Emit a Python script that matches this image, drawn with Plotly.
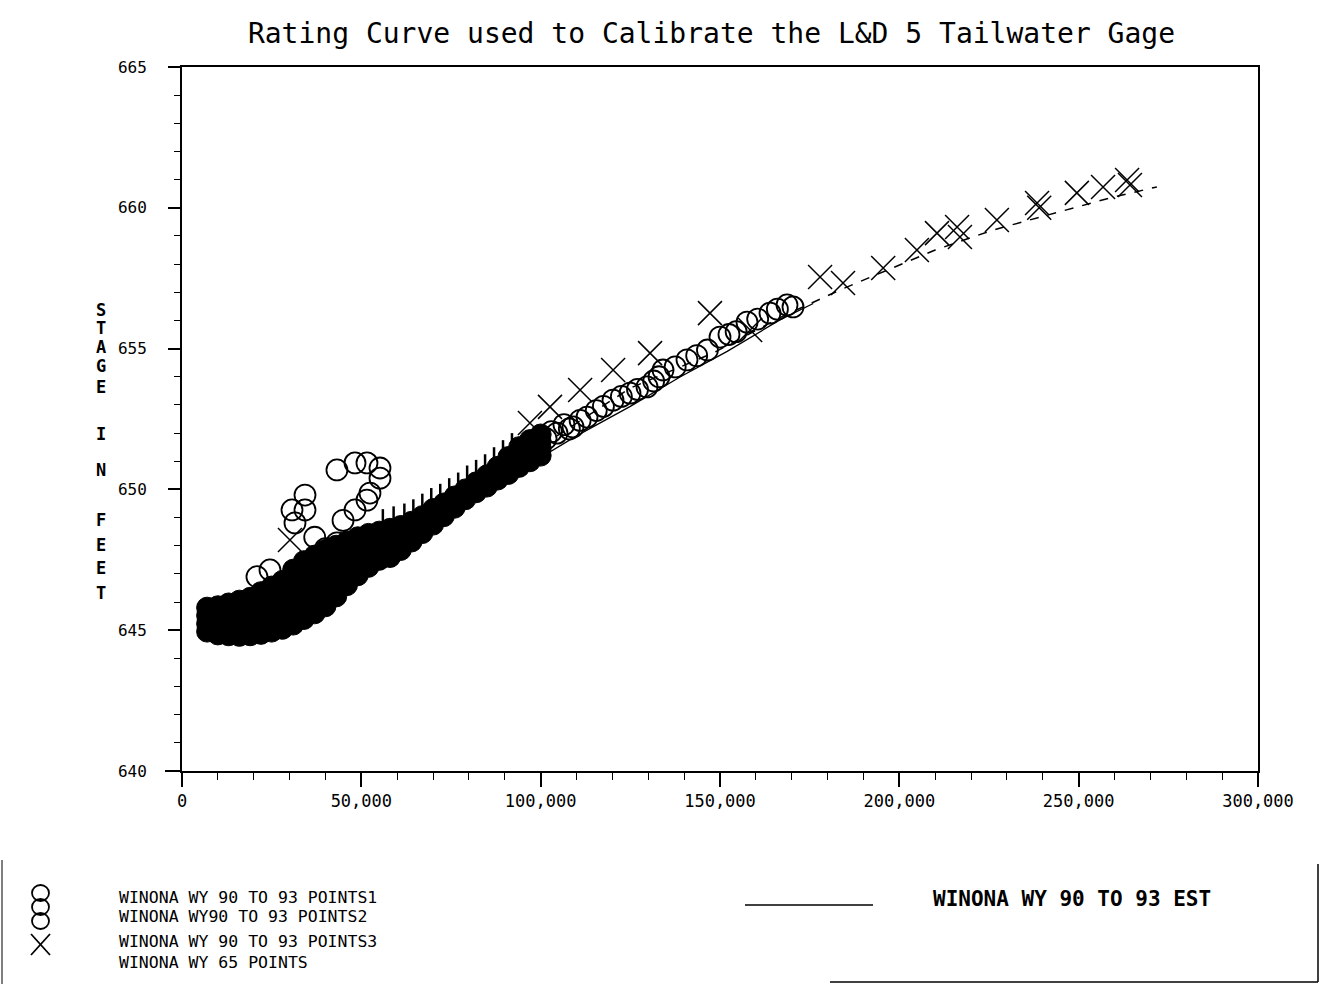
import plotly.graph_objects as go

# ---------------- data ----------------
# POINTS1 : dense core of observations, four rows across the band
p1_x = [7000, 10000, 13000, 16000, 19000, 22000, 25000, 28000, 31000, 34000, 37000,
        40000, 43000, 46000, 49000, 52000, 55000, 58000, 61000, 64000, 67000, 70000,
        73000, 76000, 79000, 82000, 85000, 88000, 91000, 94000, 97000, 100000]
p1_y_low = [644.95, 644.85, 644.82, 644.8, 644.82, 644.87, 644.95, 645.05, 645.2, 645.4, 645.6,
            645.85, 646.2, 646.6, 646.95, 647.25, 647.5, 647.6, 647.85, 648.15, 648.45, 648.75,
            649.05, 649.35, 649.65, 649.9, 650.1, 650.35, 650.55, 650.8, 651.0, 651.2]
p1_y_mid1 = [645.23, 645.18, 645.2, 645.22, 645.26, 645.36, 645.48, 645.62, 645.85, 646.08, 646.28,
             646.52, 646.8, 647.12, 647.4, 647.65, 647.83, 647.93, 648.14, 648.38, 648.65, 648.93,
             649.2, 649.48, 649.77, 650.02, 650.23, 650.5, 650.75, 651.03, 651.25, 651.45]
p1_y_mid2 = [645.52, 645.52, 645.57, 645.63, 645.71, 645.86, 646.02, 646.18, 646.5, 646.77, 646.97,
             647.18, 647.4, 647.63, 647.85, 648.03, 648.17, 648.27, 648.42, 648.62, 648.85, 649.12,
             649.35, 649.62, 649.88, 650.13, 650.37, 650.65, 650.95, 651.27, 651.5, 651.7]
p1_y_up = [645.8, 645.85, 645.95, 646.05, 646.15, 646.35, 646.55, 646.75, 647.15, 647.45, 647.65,
           647.85, 648.0, 648.15, 648.3, 648.42, 648.5, 648.6, 648.7, 648.85, 649.05, 649.3,
           649.5, 649.75, 650.0, 650.25, 650.5, 650.8, 651.15, 651.5, 651.75, 651.95]

# POINTS2 : scattered open circles
p2_x = [20900, 24530, 30670, 31500, 34290, 34290, 37000, 40000, 43200, 43200, 44900, 46500,
        48230, 48230, 51570, 51570, 52410, 55200, 55200,
        98980, 101500, 103000, 104550, 106500, 108000, 109020, 111000, 112920, 115500, 117500,
        120170, 122500, 124910, 127000, 129650, 131500, 133000, 134110, 137500, 140800, 143500,
        146500, 150000, 152500, 154500, 157530, 160500, 163940, 166000, 168680, 170360]
p2_y = [646.9, 647.14, 649.27, 648.81, 649.8, 649.27, 648.3, 647.9, 650.69, 648.1, 648.9, 647.7,
        650.94, 649.27, 650.94, 649.62, 649.87, 650.76, 650.4,
        651.51, 651.8, 652.05, 652.0, 652.3, 652.15, 652.22, 652.45, 652.57, 652.8, 652.95,
        653.17, 653.3, 653.42, 653.55, 653.64, 653.85, 654.0, 654.24, 654.35, 654.6, 654.75,
        654.95, 655.41, 655.5, 655.6, 655.94, 656.05, 656.26, 656.4, 656.55, 656.48]

# POINTS3 : short tick-like marks on the upper edge of the band
p3_x = [56000, 59000, 62000, 64500, 67000, 69500, 72000, 74500, 77000, 79500, 82000, 84500,
        87000, 89500, 92000]
p3_y = [649.0, 649.1, 649.2, 649.35, 649.55, 649.75, 649.9, 650.1, 650.3, 650.55, 650.75, 650.95,
        651.2, 651.45, 651.7]

# WY 65 POINTS : X markers
p65_x = [30100, 97000, 102600, 111000, 120200, 130500, 147200, 158400, 177900, 184300, 195500,
         204900, 210500, 216100, 216900, 227200, 238400, 239000, 249500, 256800, 263500, 264300]
p65_y = [648.2, 652.36, 652.93, 653.53, 654.24, 654.84, 656.26, 655.66, 657.54, 657.33, 657.86,
         658.5, 659.1, 659.32, 658.96, 659.57, 660.17, 660.0, 660.53, 660.74, 660.99, 660.81]

# WY 90 TO 93 EST rating curve
est_x = [10000, 30000, 50000, 70000, 82250, 94240, 110000, 125000, 138850, 152000, 166700, 176000]
est_y = [644.9, 645.9, 647.3, 648.7, 649.62, 650.69, 651.9, 652.95, 653.99, 654.9, 656.02, 656.6]

# upper dashed curve
dash_x = [104550, 125000, 148040, 166700, 183400, 194600, 210000, 226100, 241200, 259600, 271800]
dash_y = [651.9, 653.6, 654.84, 656.1, 657.08, 657.68, 658.5, 659.21, 659.74, 660.38, 660.74]

x_ticks = [0, 50000, 100000, 150000, 200000, 250000, 300000]
y_ticks = [640, 645, 650, 655, 660, 665]

title_text = "Rating Curve used to Calibrate the L&D 5 Tailwater Gage"
ytitle_letters = ["S", "T", "A", "G", "E", "I", "N", "F", "E", "E", "T"]
legend_left = ["WINONA WY 90 TO 93 POINTS1", "WINONA WY90 TO 93 POINTS2",
               "WINONA WY 90 TO 93 POINTS3", "WINONA WY 65 POINTS"]
legend_right = "WINONA WY 90 TO 93 EST"

# ---------------- figure ----------------
W, H = 1321, 984
L, R, T, B = 182, 63, 67, 213
PW, PH = W - L - R, H - T - B
FONT = "DejaVu Sans Mono"


def px(x):
    return (x - L) / PW


def py(y):
    return (H - B - y) / PH


fig = go.Figure()

core_x = p1_x + p1_x + p1_x + p1_x
core_y = p1_y_low + p1_y_mid1 + p1_y_mid2 + p1_y_up
fig.add_trace(go.Scatter(x=core_x, y=core_y, mode="markers", name=legend_left[0],
                         marker=dict(symbol="circle", size=21, color="black",
                                     line=dict(color="black", width=1))))
fig.add_trace(go.Scatter(x=est_x, y=est_y, mode="lines", name=legend_right,
                         line=dict(color="black", width=1.3)))
fig.add_trace(go.Scatter(x=dash_x, y=dash_y, mode="lines", name="dashed",
                         line=dict(color="black", width=1.5, dash="dash")))
fig.add_trace(go.Scatter(x=p2_x, y=p2_y, mode="markers", name=legend_left[1],
                         marker=dict(symbol="circle-open", size=21, color="black",
                                     line=dict(color="black", width=1.8))))
fig.add_trace(go.Scatter(x=p3_x, y=p3_y, mode="markers", name=legend_left[2],
                         marker=dict(symbol="line-ns-open", size=12, color="black",
                                     line=dict(color="black", width=2.5))))
fig.add_trace(go.Scatter(x=p65_x, y=p65_y, mode="markers", name=legend_left[3],
                         marker=dict(symbol="x-thin-open", size=24, color="black",
                                     line=dict(color="black", width=1.5))))

fig.update_layout(
    width=W, height=H,
    margin=dict(l=L, r=R, t=T, b=B, pad=0),
    paper_bgcolor="white", plot_bgcolor="white",
    showlegend=False,
    font=dict(family=FONT, color="black"),
    title=dict(text=title_text, x=0.5386, xanchor="center", y=1 - 33 / H, yanchor="middle",
               font=dict(family=FONT, size=28, color="black")),
)

fig.update_xaxes(
    range=[0, 300000], tickvals=x_ticks, tickformat=",d",
    showgrid=False, zeroline=False,
    showline=True, linecolor="black", linewidth=2, mirror=True,
    ticks="outside", ticklen=14, tickwidth=1.5, tickcolor="black",
    minor=dict(dtick=10000, ticks="outside", ticklen=7, tickwidth=1, tickcolor="black"),
    tickfont=dict(family=FONT, size=17, color="black"),
)
fig.update_yaxes(
    range=[640, 665], tickvals=y_ticks,
    showgrid=False, zeroline=False,
    showline=True, linecolor="black", linewidth=2, mirror=True,
    ticks="outside", ticklen=12, tickwidth=1.5, tickcolor="black",
    minor=dict(dtick=1, ticks="outside", ticklen=6, tickwidth=1, tickcolor="black"),
    tickfont=dict(family=FONT, size=16, color="black"),
    ticklabelstandoff=18,
)

shapes = []
# axis extensions beyond the corner
shapes.append(dict(type="line", xref="paper", yref="paper", x0=px(165), x1=px(182),
                   y0=py(771), y1=py(771), line=dict(color="black", width=2)))
shapes.append(dict(type="line", xref="paper", yref="paper", x0=px(182), x1=px(182),
                   y0=py(771), y1=py(786), line=dict(color="black", width=2)))

# page frame fragments
shapes.append(dict(type="line", xref="paper", yref="paper", x0=px(2), x1=px(2),
                   y0=py(860), y1=py(984), line=dict(color="black", width=1)))
shapes.append(dict(type="line", xref="paper", yref="paper", x0=px(1318), x1=px(1318),
                   y0=py(864), y1=py(982), line=dict(color="black", width=1.5)))
shapes.append(dict(type="line", xref="paper", yref="paper", x0=px(830), x1=px(1318),
                   y0=py(982), y1=py(982), line=dict(color="black", width=1.5)))

# legend glyphs (left): three stacked circles and an X
for cy in [893, 907, 921]:
    shapes.append(dict(type="circle", xref="paper", yref="paper",
                       x0=px(32), x1=px(49), y0=py(cy + 8), y1=py(cy - 8),
                       line=dict(color="black", width=1.8)))
shapes.append(dict(type="line", xref="paper", yref="paper", x0=px(31), x1=px(50),
                   y0=py(934), y1=py(955), line=dict(color="black", width=1.8)))
shapes.append(dict(type="line", xref="paper", yref="paper", x0=px(31), x1=px(50),
                   y0=py(955), y1=py(934), line=dict(color="black", width=1.8)))
# legend line (right)
shapes.append(dict(type="line", xref="paper", yref="paper", x0=px(745), x1=px(873),
                   y0=py(905), y1=py(905), line=dict(color="black", width=1.3)))
fig.update_layout(shapes=shapes)

ann = []
# y axis title, one letter per line
letter_y = [310, 328, 347, 366, 387, 434, 470, 520, 545, 568, 593]
for ch, ly in zip(ytitle_letters, letter_y):
    ann.append(dict(text="<b>" + ch + "</b>", xref="paper", yref="paper", x=px(101), y=py(ly),
                    xanchor="center", yanchor="middle", showarrow=False,
                    font=dict(family=FONT, size=17, color="black")))
for txt, ly in zip(legend_left, [897, 916, 941, 962]):
    ann.append(dict(text=txt, xref="paper", yref="paper", x=px(117), y=py(ly),
                    xanchor="left", yanchor="middle", showarrow=False,
                    font=dict(family=FONT, size=16.5, color="black")))
ann.append(dict(text="<b>" + legend_right + "</b>", xref="paper", yref="paper", x=px(931), y=py(899),
                xanchor="left", yanchor="middle", showarrow=False,
                font=dict(family=FONT, size=21, color="black")))
fig.update_layout(annotations=ann)

fig.write_html("out.html")
